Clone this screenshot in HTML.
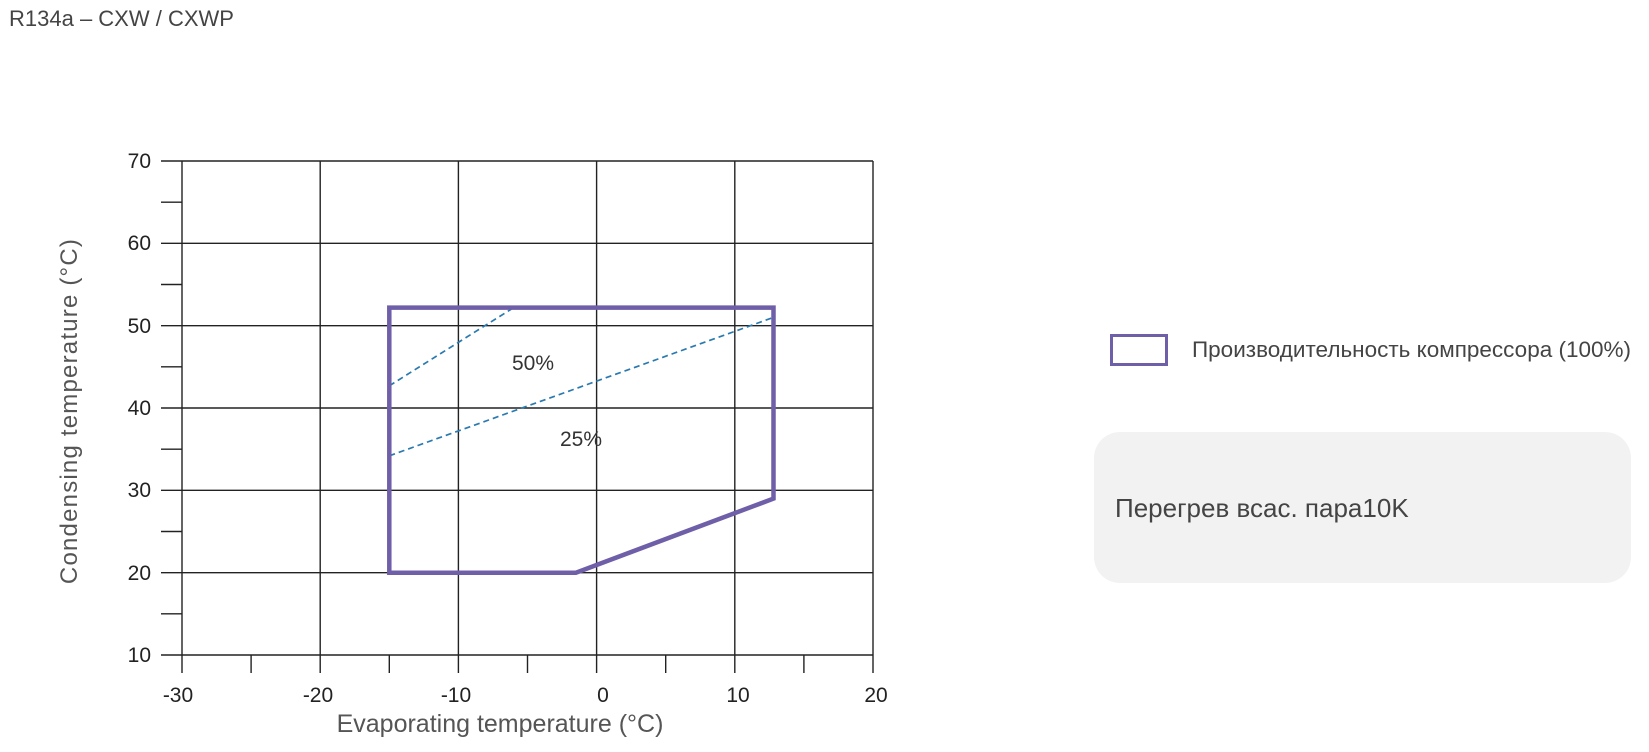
<!DOCTYPE html>
<html><head><meta charset="utf-8"><style>
body{margin:0;width:1649px;height:752px;background:#fff;overflow:hidden;position:relative;font-family:"Liberation Sans",sans-serif}
.t{position:absolute;left:9px;top:6px;font-size:22px;color:#444}
.lb{position:absolute;left:1110px;top:334px;width:52px;height:26px;border:3px solid #6f5fa8}
.lt{position:absolute;left:1192px;top:337px;font-size:22.5px;color:#444;white-space:nowrap}
.gb{position:absolute;left:1094px;top:432px;width:537px;height:151px;border-radius:26px;background:#f2f2f2}
.gt{position:absolute;left:1115px;top:493px;font-size:26px;color:#444}
</style></head><body>
<div class="t">R134a – CXW / CXWP</div>
<svg width="1649" height="752" style="position:absolute;left:0;top:0" font-family="Liberation Sans, sans-serif">
<g stroke="#222" stroke-width="1.4">
<line x1="182" y1="161" x2="182" y2="673"/><line x1="320.2" y1="161" x2="320.2" y2="673"/><line x1="458.4" y1="161" x2="458.4" y2="673"/><line x1="596.6" y1="161" x2="596.6" y2="673"/><line x1="734.8" y1="161" x2="734.8" y2="673"/><line x1="873" y1="161" x2="873" y2="673"/>
<line x1="251.1" y1="655" x2="251.1" y2="673"/><line x1="389.3" y1="655" x2="389.3" y2="673"/><line x1="527.5" y1="655" x2="527.5" y2="673"/><line x1="665.7" y1="655" x2="665.7" y2="673"/><line x1="803.9" y1="655" x2="803.9" y2="673"/>
<line x1="161" y1="655" x2="873" y2="655"/><line x1="161" y1="572.7" x2="873" y2="572.7"/><line x1="161" y1="490.3" x2="873" y2="490.3"/><line x1="161" y1="408" x2="873" y2="408"/><line x1="161" y1="325.7" x2="873" y2="325.7"/><line x1="161" y1="243.3" x2="873" y2="243.3"/><line x1="161" y1="161" x2="873" y2="161"/>
<line x1="161" y1="613.8" x2="182" y2="613.8"/><line x1="161" y1="531.5" x2="182" y2="531.5"/><line x1="161" y1="449.2" x2="182" y2="449.2"/><line x1="161" y1="366.8" x2="182" y2="366.8"/><line x1="161" y1="284.5" x2="182" y2="284.5"/><line x1="161" y1="202.2" x2="182" y2="202.2"/>
</g>
<g stroke="#2a7ab0" stroke-width="1.7" stroke-dasharray="6,4" fill="none">
<line x1="389.3" y1="385.8" x2="513.7" y2="307.6"/>
<line x1="389.3" y1="455.8" x2="773.5" y2="317.4"/>
</g>
<polygon points="389.3,307.6 773.5,307.6 773.5,498.6 575.9,572.7 389.3,572.7" fill="none" stroke="#6f5fa8" stroke-width="4.5"/>
<g font-size="21" fill="#333" text-anchor="middle">
<text x="533" y="370">50%</text><text x="581" y="446">25%</text>
</g>
<g font-size="21" fill="#222" text-anchor="end">
<text x="151" y="662">10</text><text x="151" y="580">20</text><text x="151" y="497">30</text><text x="151" y="415">40</text><text x="151" y="333">50</text><text x="151" y="250">60</text><text x="151" y="168">70</text>
</g>
<g font-size="21" fill="#222" text-anchor="middle">
<text x="178" y="702">-30</text><text x="318" y="702">-20</text><text x="456" y="702">-10</text><text x="603" y="702">0</text><text x="738" y="702">10</text><text x="876" y="702">20</text>
</g>
<text x="500" y="732" font-size="25" fill="#555" text-anchor="middle">Evaporating temperature (°C)</text>
<text transform="translate(77,411) rotate(-90)" font-size="24" fill="#555" text-anchor="middle" letter-spacing="1.2">Condensing temperature (°C)</text>
</svg>
<div class="lb"></div>
<div class="lt">Производительность компрессора (100%)</div>
<div class="gb"></div>
<div class="gt">Перегрев всас. пара10K</div>
</body></html>
